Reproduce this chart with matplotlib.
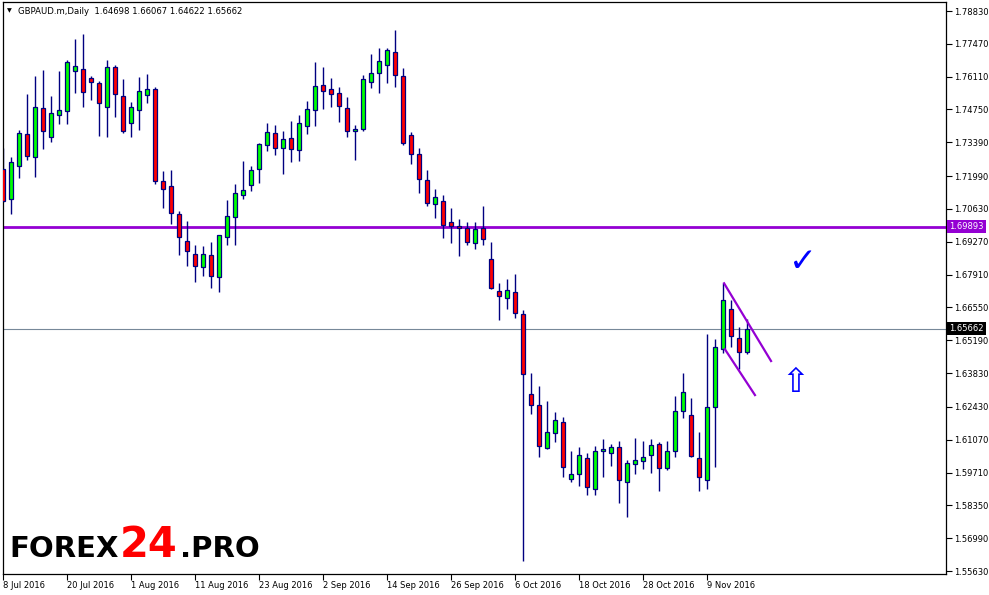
import matplotlib
matplotlib.use("Agg")
import matplotlib.pyplot as plt
import numpy as np

# ---------------- data ----------------
symbol_title = "GBPAUD.m,Daily"
last_ohlc = ["1.64698", "1.66067", "1.64622", "1.65662"]

opens = [1.7227, 1.7103, 1.7240, 1.7372, 1.7277, 1.7480, 1.7360, 1.7451, 1.7468, 1.7633,
         1.7642, 1.7604, 1.7584, 1.7484, 1.7650, 1.7530, 1.7418, 1.7472, 1.7534, 1.7559,
         1.7178, 1.7157, 1.7041, 1.6929, 1.6875, 1.6821, 1.6871, 1.6780, 1.6946, 1.7028,
         1.7122, 1.7161, 1.7227, 1.7327, 1.7376, 1.7314, 1.7356, 1.7306, 1.7405, 1.7472,
         1.7575, 1.7559, 1.7542, 1.7480, 1.7385, 1.7393, 1.7588, 1.7625, 1.7658, 1.7712,
         1.7613, 1.7368, 1.7289, 1.7182, 1.7082, 1.7095, 1.7008, 1.6991, 1.6983, 1.6921,
         1.6983, 1.6854, 1.6722, 1.6695, 1.6718, 1.6627, 1.6295, 1.6250, 1.6072, 1.6134,
         1.6179, 1.5943, 1.5964, 1.6030, 1.5902, 1.6059, 1.6051, 1.6076, 1.5931, 1.6005,
         1.6018, 1.6043, 1.6088, 1.5989, 1.6059, 1.6225, 1.6208, 1.6030, 1.5939, 1.6241,
         1.6482, 1.6647, 1.6527, 1.64698]
highs = [1.7314, 1.7278, 1.7389, 1.7539, 1.7614, 1.7639, 1.7531, 1.7635, 1.7680, 1.7767,
         1.7788, 1.7614, 1.7593, 1.7680, 1.7658, 1.7601, 1.7505, 1.7610, 1.7622, 1.7568,
         1.7220, 1.7224, 1.7053, 1.7013, 1.6914, 1.6910, 1.6926, 1.6954, 1.7100, 1.7166,
         1.7262, 1.7241, 1.7335, 1.7419, 1.7411, 1.7385, 1.7426, 1.7452, 1.7509, 1.7672,
         1.7651, 1.7606, 1.7568, 1.7527, 1.7411, 1.7618, 1.7705, 1.7729, 1.7729, 1.7804,
         1.7646, 1.7381, 1.7314, 1.7223, 1.7146, 1.7120, 1.7066, 1.7021, 1.7009, 1.7009,
         1.7074, 1.6925, 1.6755, 1.6773, 1.6794, 1.6644, 1.6383, 1.6330, 1.6268, 1.6222,
         1.6201, 1.6060, 1.6077, 1.6052, 1.6081, 1.6110, 1.6089, 1.6102, 1.6022, 1.6114,
         1.6102, 1.6110, 1.6096, 1.6102, 1.6288, 1.6383, 1.6280, 1.6139, 1.6545, 1.6524,
         1.6755, 1.6686, 1.6573, 1.66067]
lows = [1.7093, 1.7043, 1.7193, 1.7265, 1.7197, 1.7313, 1.7342, 1.7416, 1.7416, 1.7545,
        1.7487, 1.7516, 1.7367, 1.7362, 1.7445, 1.7379, 1.7362, 1.7391, 1.7503, 1.7168,
        1.7068, 1.7002, 1.6874, 1.6828, 1.6762, 1.6787, 1.6737, 1.6720, 1.6914, 1.6914,
        1.7103, 1.7139, 1.7172, 1.7303, 1.7288, 1.7209, 1.7259, 1.7263, 1.7375, 1.7408,
        1.7478, 1.7487, 1.7424, 1.7362, 1.7267, 1.7385, 1.7565, 1.7545, 1.7586, 1.7570,
        1.7329, 1.7251, 1.7130, 1.7077, 1.7027, 1.6944, 1.6923, 1.6869, 1.6915, 1.6898,
        1.6915, 1.6731, 1.6604, 1.6650, 1.6613, 1.5606, 1.6215, 1.6037, 1.6070, 1.6099,
        1.5954, 1.5933, 1.5917, 1.5879, 1.5879, 1.5954, 1.5999, 1.5846, 1.5788, 1.5966,
        1.5987, 1.5970, 1.5896, 1.5980, 1.6037, 1.6198, 1.6037, 1.5896, 1.5904, 1.5995,
        1.6465, 1.6492, 1.6399, 1.64622]
closes = [1.7097, 1.7258, 1.7376, 1.7281, 1.7484, 1.7385, 1.7459, 1.7472, 1.7671, 1.7654,
          1.7546, 1.7588, 1.7501, 1.7650, 1.7538, 1.7385, 1.7484, 1.7550, 1.7559, 1.7178,
          1.7144, 1.7045, 1.6946, 1.6888, 1.6825, 1.6875, 1.6784, 1.6954, 1.7033, 1.7128,
          1.7142, 1.7224, 1.7331, 1.7381, 1.7314, 1.7352, 1.7310, 1.7418, 1.7476, 1.7571,
          1.7550, 1.7538, 1.7488, 1.7385, 1.7393, 1.7600, 1.7625, 1.7675, 1.7720, 1.7617,
          1.7335, 1.7289, 1.7188, 1.7086, 1.7111, 1.6998, 1.6991, 1.6983, 1.6925, 1.6979,
          1.6937, 1.6734, 1.6701, 1.6726, 1.6631, 1.6378, 1.6250, 1.6080, 1.6138, 1.6188,
          1.5993, 1.5964, 1.6043, 1.5910, 1.6059, 1.6067, 1.6076, 1.5939, 1.6009, 1.6022,
          1.6034, 1.6084, 1.5989, 1.6059, 1.6225, 1.6303, 1.6038, 1.5951, 1.6241, 1.6490,
          1.6685, 1.6536, 1.6469, 1.65662]

date_labels = ["8 Jul 2016", "20 Jul 2016", "1 Aug 2016", "11 Aug 2016", "23 Aug 2016",
               "2 Sep 2016", "14 Sep 2016", "26 Sep 2016", "6 Oct 2016", "18 Oct 2016",
               "28 Oct 2016", "9 Nov 2016"]
price_ticks = [1.78830, 1.77470, 1.76110, 1.74750, 1.73390, 1.71990, 1.70630, 1.69270,
               1.67910, 1.66550, 1.65190, 1.63830, 1.62430, 1.61070, 1.59710, 1.58350,
               1.56990, 1.55630]
level_line = 1.69893
current_price = 1.65662

# channel lines (bar index, price)
upper_channel_x = [90.1, 95.97]
upper_channel_y = [1.6755, 1.6433]
lower_channel_x = [90.2, 93.96]
lower_channel_y = [1.6482, 1.6292]

# ---------------- figure ----------------
W, H = 989, 595
fig = plt.figure(figsize=(W / 100, H / 100), dpi=100)
fig.patch.set_facecolor("white")
left_px, right_px, top_px, bot_px = 2.7, 946, 2, 574.3
ax = fig.add_axes([left_px / W, 1 - bot_px / H, (right_px - left_px) / W, (bot_px - top_px) / H])
ax.set_facecolor("white")

n = len(opens)
xs = np.arange(n)
o = np.array(opens); h = np.array(highs); l = np.array(lows); c = np.array(closes)
up = c >= o

ax.vlines(xs, l, h, color="#000080", linewidth=1.0, zorder=2)
bottoms = np.minimum(o, c)
heights = np.maximum(np.abs(c - o), 0.00005)
colors = np.where(up, "#00FF00", "#FF0000")
ax.bar(xs, heights, bottom=bottoms, width=0.55, color=colors, edgecolor="#000080",
       linewidth=0.9, zorder=3)

# horizontal lines
ax.axhline(level_line, color="#9400D3", linewidth=2.0, zorder=1)
ax.axhline(current_price, color="#778899", linewidth=0.8, zorder=1)

# channel lines
ax.plot(upper_channel_x, upper_channel_y, color="#9400D3", linewidth=1.6, zorder=4)
ax.plot(lower_channel_x, lower_channel_y, color="#9400D3", linewidth=1.6, zorder=4)

ax.set_xlim(-0.075, 117.84)
ax.set_ylim(1.55495, 1.79203)

# axes styling
for s in ax.spines.values():
    s.set_color("black")
    s.set_linewidth(0.9)

ax.yaxis.tick_right()
ax.set_yticks(price_ticks)
ax.set_yticklabels([f"{p:.5f}" for p in price_ticks])
ax.tick_params(axis="y", direction="out", length=4, width=0.8, labelsize=6, pad=2,
               colors="black")

ax.set_xticks(np.arange(0, 8 * len(date_labels), 8))
ax.set_xticklabels(date_labels)
ax.tick_params(axis="x", direction="out", length=4, width=0.8, labelsize=6, pad=1)
for t in ax.get_xticklabels():
    t.set_horizontalalignment("left")

# price boxes on the right axis
ax.annotate(f"{level_line:.5f}", xy=(1, level_line), xycoords=("axes fraction", "data"),
            xytext=(2.5, 0), textcoords="offset points", ha="left", va="center",
            fontsize=6, color="white",
            bbox=dict(boxstyle="square,pad=0.25", fc="#9400D3", ec="none"), zorder=10,
            annotation_clip=False)
ax.annotate(f"{current_price:.5f}", xy=(1, current_price), xycoords=("axes fraction", "data"),
            xytext=(2.5, 0), textcoords="offset points", ha="left", va="center",
            fontsize=6, color="white",
            bbox=dict(boxstyle="square,pad=0.25", fc="black", ec="none"), zorder=10,
            annotation_clip=False)

# title
fig.text(9 / W, 1 - 11 / H, "\u25BC", fontsize=4.5, color="black", ha="center", va="center")
fig.text(18 / W, 1 - 11 / H, symbol_title + "  " + " ".join(last_ohlc),
         fontsize=6.1, color="black", ha="left", va="center")

# check mark & arrow
fig.text(803 / W, 1 - 262 / H, "\u2713", fontsize=24, color="#0000FF", ha="center", va="center",
         fontweight="bold")
fig.text(795 / W, 1 - 383 / H, "\u21E7", fontsize=24, color="#0000FF", ha="center", va="center")

# logo
logo_y = 1 - 557 / H
fig.text(9 / W, logo_y, "FOREX", fontsize=21, fontweight="bold", color="black",
         ha="left", va="baseline", family="DejaVu Sans")
fig.text(120 / W, logo_y, "24", fontsize=30, fontweight="bold", color="#FF0000",
         ha="left", va="baseline", family="DejaVu Sans")
fig.text(180 / W, logo_y, ".PRO", fontsize=21, fontweight="bold", color="black",
         ha="left", va="baseline", family="DejaVu Sans")

fig.savefig("out.png", dpi=100, facecolor="white")
